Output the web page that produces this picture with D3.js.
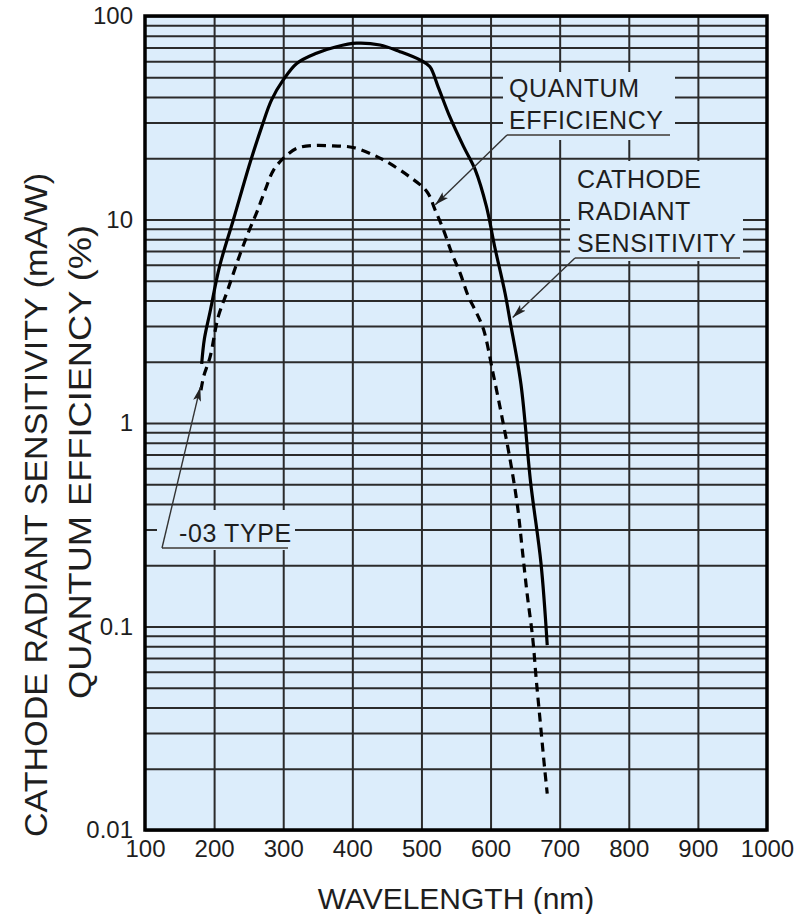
<!DOCTYPE html>
<html>
<head>
<meta charset="utf-8">
<script src="https://cdn.jsdelivr.net/npm/d3@7"></script>
<style>
  body { margin: 0; background: #fff; }
  text { font-family: "Liberation Sans", Arial, Helvetica, sans-serif; fill: #1e1e1e; }
</style>
</head>
<body>
<script>
// cathode radiant sensitivity (mA/W), solid line
const crsWavelength = [182, 186, 194, 208, 228, 252, 269, 283, 300, 320, 348, 377, 406, 440, 469, 498, 512, 524, 541, 561, 578, 594, 606, 621, 628, 644, 658, 673, 682];
const crsValue = [1.95, 2.6, 3.5, 5.9, 10, 19, 28.6, 38.6, 48.5, 58.6, 65.6, 70.6, 73.5, 72, 66.8, 60.8, 56.4, 45, 32, 22.8, 17.5, 11.6, 7.35, 4.34, 3.2, 1.55, 0.51, 0.204, 0.081];

// quantum efficiency (%), dashed line
const qeWavelength = [181, 185, 194, 206, 218, 228, 238, 250, 262, 274, 286, 303, 320, 343, 372, 401, 430, 450, 483, 508, 520, 532, 544, 556, 568, 580, 590, 604, 617, 629, 639, 646, 653, 661, 666, 672, 678, 682];
const qeValue = [1.45, 1.7, 2.1, 3.33, 4.34, 5.45, 6.82, 8.71, 10.9, 14, 17.5, 20.4, 22.4, 23.1, 23, 22.6, 20.8, 19.2, 16.2, 13.7, 11.1, 8.87, 6.82, 5.45, 4.18, 3.46, 2.87, 1.73, 1.05, 0.64, 0.39, 0.237, 0.144, 0.0877, 0.0555, 0.0337, 0.0205, 0.0151];

const xTicks = [100, 200, 300, 400, 500, 600, 700, 800, 900, 1000];
const yTicks = [100, 10, 1, 0.1, 0.01];
const yTickLabels = ['100', '10', '1', '0.1', '0.01'];

const svgWidth = 809;
const svgHeight = 914;
const margin = {top: 16, right: 42, bottom: 84, left: 145};
const chartWidth = svgWidth - margin.left - margin.right;
const chartHeight = svgHeight - margin.top - margin.bottom;

const svg = d3.select('body').append('svg')
    .attr('width', svgWidth)
    .attr('height', svgHeight);

svg.append('defs').append('marker')
    .attr('id', 'arrow')
    .attr('markerUnits', 'userSpaceOnUse')
    .attr('viewBox', '0 0 14 8')
    .attr('refX', 14).attr('refY', 4)
    .attr('markerWidth', 14).attr('markerHeight', 8)
    .attr('orient', 'auto')
  .append('path')
    .attr('d', 'M0,0 L14,4 L0,8 L3,4 Z')
    .attr('fill', '#222');

const g = svg.append('g').attr('transform', 'translate(' + margin.left + ',' + margin.top + ')');

const x = d3.scaleLinear().domain([100, 1000]).range([0, chartWidth]);
const y = d3.scaleLog().domain([0.01, 100]).range([chartHeight, 0]);

g.append('rect')
    .attr('width', chartWidth)
    .attr('height', chartHeight)
    .attr('fill', '#dcedfb');

// grid
g.append('g')
    .attr('class', 'grid')
    .call(d3.axisLeft(y).tickSize(-chartWidth).tickFormat(''))
    .call(s => s.select('.domain').remove());

g.append('g')
    .attr('class', 'grid')
    .attr('transform', 'translate(0,' + chartHeight + ')')
    .call(d3.axisBottom(x).tickValues(xTicks.slice(1, -1)).tickSize(-chartHeight).tickFormat(''))
    .call(s => s.select('.domain').remove());

g.selectAll('.grid line')
    .attr('stroke', '#2b2b2b')
    .attr('stroke-width', 2);

// label boxes hide the grid
const boxes = [
    {x: 503, y: 72, w: 172, h: 68},
    {x: 570, y: 161, w: 173, h: 100},
    {x: 157, y: 510, w: 138, h: 40}
];
svg.selectAll('rect.box')
    .data(boxes)
    .enter().append('rect')
    .attr('class', 'box')
    .attr('x', d => d.x).attr('y', d => d.y)
    .attr('width', d => d.w).attr('height', d => d.h)
    .attr('fill', '#dcedfb');

// curves
const crs = crsWavelength.map((w, i) => [w, crsValue[i]]);
const qe = qeWavelength.map((w, i) => [w, qeValue[i]]);
const line = d3.line()
    .x(d => x(d[0]))
    .y(d => y(d[1]))
    .curve(d3.curveCatmullRom.alpha(0.5));

g.append('path')
    .datum(crs)
    .attr('d', line)
    .attr('fill', 'none')
    .attr('stroke', '#000')
    .attr('stroke-width', 3.2);

g.append('path')
    .datum(qe)
    .attr('d', line)
    .attr('fill', 'none')
    .attr('stroke', '#000')
    .attr('stroke-width', 3.2)
    .attr('stroke-dasharray', '9,6');

// frame
g.append('rect')
    .attr('width', chartWidth)
    .attr('height', chartHeight)
    .attr('fill', 'none')
    .attr('stroke', '#000')
    .attr('stroke-width', 3.5);

// axes labels
const xAxis = g.append('g')
    .attr('transform', 'translate(0,' + chartHeight + ')')
    .call(d3.axisBottom(x).tickValues(xTicks).tickSize(0).tickPadding(10).tickFormat(d3.format('d')));
xAxis.select('.domain').remove();
xAxis.selectAll('text').attr('font-size', 24).attr('fill', '#1e1e1e');

const yAxis = g.append('g')
    .call(d3.axisLeft(y).tickValues(yTicks).tickSize(0).tickPadding(12)
        .tickFormat((d, i) => yTickLabels[i]));
yAxis.select('.domain').remove();
yAxis.selectAll('text').attr('font-size', 24).attr('fill', '#1e1e1e');

svg.append('text')
    .attr('x', margin.left + chartWidth / 2)
    .attr('y', 909)
    .attr('text-anchor', 'middle')
    .attr('font-size', 30)
    .text('WAVELENGTH (nm)');

svg.append('text')
    .attr('transform', 'translate(47,505) rotate(-90)')
    .attr('text-anchor', 'middle')
    .attr('font-size', 31)
    .attr('textLength', 664)
    .attr('lengthAdjust', 'spacingAndGlyphs')
    .text('CATHODE RADIANT SENSITIVITY (mA/W)');

svg.append('text')
    .attr('transform', 'translate(91,462) rotate(-90)')
    .attr('text-anchor', 'middle')
    .attr('font-size', 31)
    .attr('textLength', 474)
    .attr('lengthAdjust', 'spacingAndGlyphs')
    .text('QUANTUM EFFICIENCY (%)');

// annotations
const notes = [
    {lines: ['QUANTUM', 'EFFICIENCY'], tx: 509, ty: 97, ux0: 507, ux1: 670, uy: 135, tip: [520, 11.8]},
    {lines: ['CATHODE', 'RADIANT', 'SENSITIVITY'], tx: 577, ty: 188, ux0: 575, ux1: 740, uy: 258, tip: [632, 3.3]},
    {lines: ['-03 TYPE'], tx: 179, ty: 542, ux0: 162, ux1: 288, uy: 548, tip: [180, 1.5]}
];

notes.forEach(n => {
    const t = svg.append('text')
        .attr('font-size', 25)
        .attr('letter-spacing', 0.6);
    n.lines.forEach((s, i) => {
        t.append('tspan').attr('x', n.tx).attr('y', n.ty + i * 32).text(s);
    });
    svg.append('line')
        .attr('x1', n.ux0).attr('x2', n.ux1)
        .attr('y1', n.uy).attr('y2', n.uy)
        .attr('stroke', '#666').attr('stroke-width', 2);
    svg.append('line')
        .attr('x1', n.ux0).attr('y1', n.uy)
        .attr('x2', margin.left + x(n.tip[0]))
        .attr('y2', margin.top + y(n.tip[1]))
        .attr('stroke', '#333').attr('stroke-width', 1.4)
        .attr('marker-end', 'url(#arrow)');
});
</script>
</body>
</html>
